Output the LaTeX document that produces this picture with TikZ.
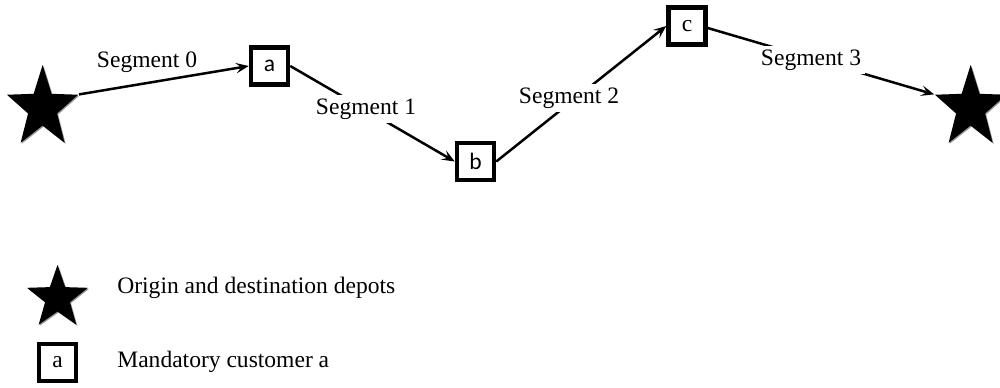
\documentclass[tikz,border=0pt]{standalone}
\usepackage{fontspec}
\setmainfont{Liberation Serif}
\newfontfamily\boxsans{Carlito}
\usetikzlibrary{shapes.geometric,arrows.meta,shadows}
\begin{document}
\begin{tikzpicture}[x=0.02cm,y=-0.02cm,
  font=\fontsize{13.4}{16}\selectfont,
  depot/.style={star,star points=5,star point ratio=2.45,fill=black,draw=none,inner sep=0pt,
    drop shadow={shadow xshift=0.6pt,shadow yshift=-0.6pt,fill=gray!80,opacity=1}},
  bigdepot/.style={depot,minimum size=1.72cm,xscale=0.87,transform shape},
  cust/.style={draw=black,line width=0.09cm,minimum size=0.74cm,inner sep=0pt,fill=white},
  seg/.style={line width=0.05cm,-{Stealth[length=0.26cm,width=0.21cm,inset=0.11cm]}},
  lbl/.style={fill=white,inner sep=2pt}]
\useasboundingbox (0,0) rectangle (1000,387);
% nodes
\node[bigdepot] (o) at (42.6,108) {};
\node[bigdepot] (d) at (970.6,108) {};
\node[cust] (a) at (269.5,66) {\boxsans a};
\node[cust] (b) at (475.5,161.5) {\boxsans b};
\node[cust] (c) at (687,26) {c};
% connectors
\draw[seg] (o.outer point 5) -- (a.west);
\draw[seg] (a.east) -- (b.west);
\draw[seg] (b.east) -- (c.west);
\draw[seg] ([yshift=-0.04cm]c.east) -- (d.outer point 2);
% labels
\node[inner sep=1pt] (l0) at (147,62) {Segment 0};
\node[lbl] (l1) at (366,109) {Segment 1};
\node[lbl] (l2) at (569,98) {Segment 2};
\node[lbl] (l3) at (811,60) {Segment 3};
% legend
\node[depot,minimum size=1.32cm,xscale=0.97,transform shape] (ls) at (57.5,298) {};
\node[anchor=west,inner sep=0pt] (lt1) at (117,288) {Origin and destination depots};
\node[cust] (lb) at (57.5,362.5) {a};
\node[anchor=west,inner sep=0pt] (lt2) at (117,362) {Mandatory customer a};
\end{tikzpicture}
\end{document}
